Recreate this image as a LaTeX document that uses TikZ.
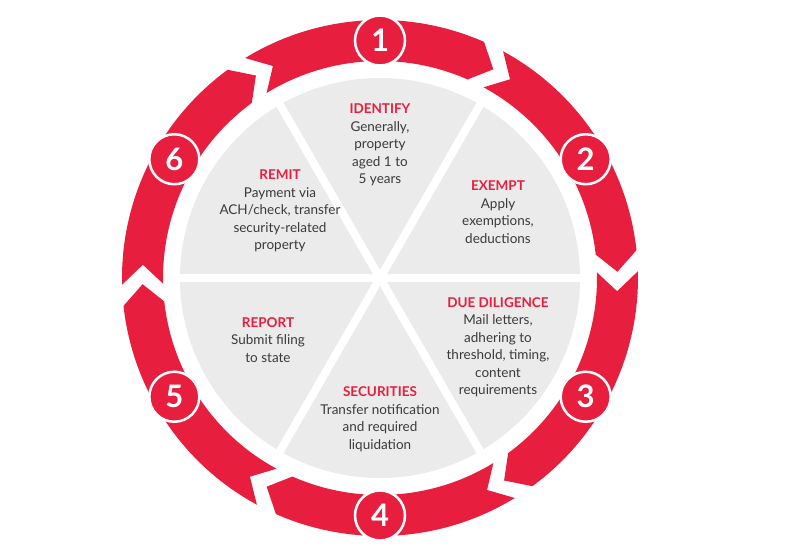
\documentclass[tikz,border=0pt]{standalone}
\usepackage{fontspec}
\setmainfont{Lato}
\usetikzlibrary{positioning}
\definecolor{stepred}{HTML}{E81E3E}
\definecolor{sliceg}{HTML}{EBEBEB}
\definecolor{bodytxt}{HTML}{3A3A3A}
\tikzset{
  numcirc/.style={circle,fill=stepred,draw=white,line width=2.5pt,minimum size=50pt,inner sep=0pt,text=white,font=\fontsize{31}{31}\selectfont\bfseries},
  steptxt/.style={align=center,text=bodytxt,font=\fontsize{13.5}{17.5}\selectfont},
  divider/.style={white,line width=8pt}
}
\newcommand{\head}[1]{{\color{stepred}\bfseries #1}}
\newcommand{\ringpiece}[2]{\fill[stepred] (#1:258) arc[start angle=#1,end angle=#2+4.7,radius=258] -- (#2:237.5) -- (#2+4.7:217) arc[start angle=#2+4.7,end angle=#1,radius=217] -- (#1-4.7:237.5) -- cycle;}

\begin{document}
\begin{tikzpicture}[x=1pt,y=1pt]
\useasboundingbox (-380,-281) rectangle (410,278);
\coordinate (O) at (0,0);
\fill[sliceg] (O) circle[radius=200];
\draw[divider] (O) -- (0:205);
\draw[divider] (O) -- (60:205);
\draw[divider] (O) -- (120:205);
\draw[divider] (O) -- (180:205);
\draw[divider] (O) -- (240:205);
\draw[divider] (O) -- (300:205);
\ringpiece{121.5}{61.5}
\ringpiece{61.5}{1.5}
\ringpiece{1.5}{-58.5}
\ringpiece{-58.5}{-118.5}
\ringpiece{-118.5}{-178.5}
\ringpiece{181.5}{121.5}
\node[numcirc] (n1) at (90:237.5) {1};
\node[numcirc] (n2) at (30:237.5) {2};
\node[numcirc] (n3) at (-30:237.5) {3};
\node[numcirc] (n4) at (-90:237.5) {4};
\node[numcirc] (n5) at (-150:237.5) {5};
\node[numcirc] (n6) at (150:237.5) {6};
\node[steptxt] (identify) at (0,133) {\head{IDENTIFY}\\Generally,\\property\\aged 1 to\\5 years};
\node[steptxt] (exempt) at (118,66) {\head{EXEMPT}\\Apply\\exemptions,\\deductions};
\node[steptxt] (diligence) at (118,-69) {\head{DUE DILIGENCE}\\Mail letters,\\adhering to\\threshold, timing,\\content\\requirements};
\node[steptxt] (securities) at (0,-141) {\head{SECURITIES}\\Transfer notification\\and required\\liquidation};
\node[steptxt] (report) at (-112,-62) {\head{REPORT}\\Submit filing\\to state};
\node[steptxt] (remit) at (-100,67) {\head{REMIT}\\Payment via\\ACH/check, transfer\\security-related\\property};
\end{tikzpicture}
\end{document}
